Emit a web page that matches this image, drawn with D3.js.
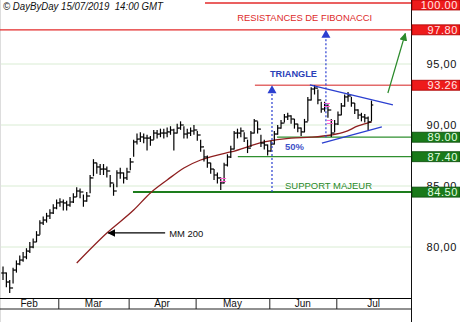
<!DOCTYPE html>
<html>
<head>
<meta charset="utf-8">
<script src="https://cdn.jsdelivr.net/npm/d3@7"></script>
<style>
body{margin:0;background:#fff}
svg{display:block;font-family:"Liberation Sans",Arial,sans-serif}
</style>
</head>
<body>
<svg width="460" height="322"></svg>
<script>
// daily bars, 6 Feb -> 15 Jul 2019 (one value per trading day)
var holidays = ["2019-04-19","2019-04-22","2019-05-01"];
var monthNames = ["Feb","Mar","Apr","May","Jun","Jul"];

var closes = [77.87,77.13,76.64,78.11,78.61,78.93,79.18,79.67,80.00,80.41,
  80.98,81.97,82.21,82.54,82.79,83.20,83.61,83.69,83.61,83.44,
  83.69,84.10,84.59,84.51,83.77,84.18,85.66,86.89,86.56,86.39,
  86.39,86.23,85.25,84.59,86.07,86.07,85.66,86.15,86.97,88.61,
  88.85,89.02,88.93,88.93,88.77,89.34,89.26,89.34,89.34,89.43,
  89.59,89.34,89.75,90.00,89.26,89.34,89.51,89.59,89.18,88.20,
  87.38,86.89,86.39,85.90,85.66,85.25,86.72,87.38,88.03,89.34,
  89.34,89.51,88.93,88.11,89.34,90.33,89.67,88.52,88.36,87.87,
  88.44,89.26,89.75,90.16,90.66,90.74,90.49,90.08,89.75,89.43,
  90.25,92.05,92.95,93.03,92.05,91.31,91.56,91.23,89.34,90.08,
  90.82,91.56,92.30,92.38,91.80,91.23,90.82,90.66,90.57,90.25,91.64];
var highs = [78.4,77.9,77.3,78.3,78.9,79.3,79.6,79.9,80.4,80.7,
  81.3,82.2,82.5,82.8,83.1,83.5,83.9,84.0,83.9,83.8,
  84.1,84.4,84.9,84.8,84.3,84.5,85.9,87.2,86.9,86.8,
  86.8,86.6,85.9,85.2,86.3,86.5,86.1,86.5,87.3,88.8,
  89.3,89.4,89.3,89.2,89.1,89.6,89.6,89.7,89.7,89.8,
  89.9,89.7,90.1,90.3,89.9,89.7,89.8,90.0,89.5,88.8,
  88.0,87.5,86.9,86.4,86.1,85.7,86.9,87.6,88.3,89.5,
  89.7,89.8,89.4,88.8,89.5,90.5,90.3,89.2,88.8,88.4,
  88.7,89.5,90.0,90.4,90.9,91.0,90.8,90.5,90.1,89.8,
  90.5,92.3,93.1,93.26,92.9,91.9,91.9,91.7,90.5,90.4,
  91.1,91.8,92.5,92.7,92.3,91.8,91.3,91.0,90.9,90.7,92.0];
var lows = [77.3,76.7,76.23,77.0,77.9,78.5,78.8,79.0,79.5,79.9,
  80.4,81.0,81.8,82.0,82.3,82.7,83.1,83.3,83.0,83.0,
  83.3,83.6,84.1,84.0,83.3,83.7,84.4,85.8,86.0,85.9,
  85.9,85.7,84.9,84.2,84.9,85.6,85.2,85.5,86.3,87.4,
  88.4,88.6,88.5,87.9,88.3,88.8,88.9,89.0,88.9,89.0,
  89.2,87.9,89.3,89.6,88.9,88.9,89.1,89.2,88.7,87.8,
  87.0,86.5,86.0,85.5,85.2,84.67,85.2,86.6,87.3,88.0,
  88.9,89.0,88.6,87.7,88.2,89.3,89.3,88.2,88.0,87.5,
  87.8,88.4,89.2,89.7,90.2,90.4,90.1,89.7,89.4,89.1,
  89.4,90.3,92.0,92.5,91.7,91.0,91.1,90.6,89.02,89.4,
  90.0,90.8,91.5,91.9,91.5,90.9,90.5,90.3,90.2,89.6,90.3];

// MM 200, read at some days
var mmDays = [22,31,39,44,49,54,59,64,68,78,86,92,98,102,106,110];
var mmValues = [78.69,81.15,83.03,84.43,85.49,86.48,87.13,87.54,87.79,88.61,88.93,89.00,89.18,89.43,89.92,90.25];

var gridTicks = [80,85,90,95];
var resistances = [100.00,97.80,93.26];
var supports = [89.00,87.40,84.50];

var svg = d3.select("svg"),
    plotW = 411,
    axisTop = 298, axisBottom = 309;

// trading days
var holi = new Set(holidays);
var fmtDay = d3.timeFormat("%Y-%m-%d");
var dates = d3.timeDay.range(new Date(2019,1,6), new Date(2019,6,16))
   .filter(function(d){ return d.getDay()!=0 && d.getDay()!=6 && !holi.has(fmtDay(d)); });

var x = d3.scaleLinear().domain([-0.9,121.8]).range([0,plotW]);
var y = d3.scaleLinear().domain([80,100]).range([247,3]);

// grid
svg.append("g").selectAll("line").data(gridTicks).enter().append("line")
   .attr("x1",0).attr("x2",plotW)
   .attr("y1",d=>y(d)).attr("y2",d=>y(d))
   .attr("stroke","#d9ecd3").attr("stroke-width",1);

svg.append("line").attr("x1",0.5).attr("x2",0.5).attr("y1",0).attr("y2",322).attr("stroke","#ddd");

// resistance / support lines (start day for each)
var resFrom = [60.3,-1,75.2];
var supFrom = [81.8,70.1,38.8];
svg.append("g").selectAll("line").data(resistances).enter().append("line")
   .attr("x1",(d,i)=>x(resFrom[i])).attr("x2",plotW)
   .attr("y1",d=>y(d)).attr("y2",d=>y(d))
   .attr("stroke",(d,i)=> i==2 ? "#e36a6a" : "#e32b2b")
   .attr("stroke-width",(d,i)=> i==2 ? 1.6 : 1.3);
svg.append("g").selectAll("line").data(supports).enter().append("line")
   .attr("x1",(d,i)=>x(supFrom[i])).attr("x2",plotW)
   .attr("y1",d=>y(d)).attr("y2",d=>y(d))
   .attr("stroke",(d,i)=> i==2 ? "#1d7d1d" : "#2f8f2f")
   .attr("stroke-width",(d,i)=> i==2 ? 2 : 1.3);

// MM 200
var mm = mmDays.map((d,i)=>[d,mmValues[i]]);
svg.append("path").datum(mm)
   .attr("fill","none").attr("stroke","#8e1f1f").attr("stroke-width",1.3)
   .attr("d",d3.line().x(d=>x(d[0])).y(d=>y(d[1])).curve(d3.curveMonotoneX));

// ohlc bars
var bars = svg.append("g").attr("stroke","#000").attr("stroke-width",1.2);
closes.forEach(function(c,i){
  var cx = x(i);
  var op = i>0 ? closes[i-1] : c;
  bars.append("line").attr("x1",cx).attr("x2",cx).attr("y1",y(highs[i])).attr("y2",y(lows[i]));
  bars.append("line").attr("x1",cx-1.8).attr("x2",cx).attr("y1",y(op)).attr("y2",y(op));
  bars.append("line").attr("x1",cx).attr("x2",cx+1.8).attr("y1",y(c)).attr("y2",y(c));
});

// pink marks
var pinkMarks = [[65.7,85.49],[96.7,91.64],[97.6,90.25]];
pinkMarks.forEach(function(p){
  [-1.5,1.5].forEach(function(o){
    svg.append("line").attr("x1",x(p[0])-3).attr("x2",x(p[0])+3)
      .attr("y1",y(p[1])+o).attr("y2",y(p[1])+o)
      .attr("stroke","#ff5fd0").attr("stroke-width",1);
  });
});

// triangle
var blue = "#2b3fd0";
var triLines = [[[91.6,93.28],[116.4,91.64]],[[95.2,88.52],[113.1,89.84]]];
triLines.forEach(function(l){
  svg.append("line").attr("x1",x(l[0][0])).attr("y1",y(l[0][1]))
     .attr("x2",x(l[1][0])).attr("y2",y(l[1][1]))
     .attr("stroke",blue).attr("stroke-width",1.3);
});

// dotted target arrows: [day, from, to]
var targets = [[80.3,84.50,93.26],[96.4,89.00,97.80]];
targets.forEach(function(t){
  var tx = x(t[0]), ty = y(t[2]);
  svg.append("line").attr("x1",tx).attr("x2",tx).attr("y1",y(t[1])).attr("y2",ty+8)
     .attr("stroke",blue).attr("stroke-width",1.2).attr("stroke-dasharray","2,2");
  svg.append("path").attr("d","M"+tx+","+ty+"L"+(tx+4.5)+","+(ty+8)+"L"+(tx-4.5)+","+(ty+8)+"Z")
     .attr("fill",blue);
});

// arrow heads
var defs = svg.append("defs");
defs.append("marker").attr("id","gh").attr("viewBox","0 0 10 10").attr("refX",9).attr("refY",5)
   .attr("markerWidth",8).attr("markerHeight",8).attr("markerUnits","userSpaceOnUse").attr("orient","auto")
   .append("path").attr("d","M0,0L10,5L0,10Z").attr("fill","#2a8a2a");
defs.append("marker").attr("id","bh").attr("viewBox","0 0 10 10").attr("refX",9).attr("refY",5)
   .attr("markerWidth",8).attr("markerHeight",8).attr("markerUnits","userSpaceOnUse").attr("orient","auto")
   .append("path").attr("d","M0,0L10,5L0,10Z").attr("fill","#000");

svg.append("line").attr("x1",x(114.9)).attr("y1",y(92.62)).attr("x2",x(120.1)).attr("y2",y(97.5))
   .attr("stroke","#2a8a2a").attr("stroke-width",1.2).attr("marker-end","url(#gh)");
svg.append("line").attr("x1",x(48.4)).attr("y1",y(81.15)).attr("x2",x(31.4)).attr("y2",y(81.15))
   .attr("stroke","#000").attr("stroke-width",1.2).attr("marker-end","url(#bh)");

// texts
function label(t,d,p,w,col,bold){
  svg.append("text").attr("x",x(d)).attr("y",y(p)).text(t)
     .attr("fill",col).style("font-size","9px").style("font-weight",bold?"bold":"normal")
     .attr("textLength",w).attr("lengthAdjust","spacingAndGlyphs");
}
label("RESISTANCES DE FIBONACCI",69.9,98.55,135,"#dd2a2a",false);
label("TRIANGLE",79.7,93.93,47,"#2b3fb8",true);
label("50%",84.2,87.95,19,"#3f52c8",true);
label("SUPPORT MAJEUR",84.2,84.75,87,"#2a8a2a",false);
label("MM 200",49.6,80.82,34,"#111",false);

svg.append("text").attr("x",3).attr("y",10).text("\u00a9 DayByDay 15/07/2019  14:00 GMT")
   .style("font-size","10px").style("font-style","italic").attr("fill","#111")
   .attr("textLength",160).attr("lengthAdjust","spacingAndGlyphs").style("white-space","pre");

// x axis band
var monthStarts = [];
dates.forEach(function(d,i){ if(i>0 && d.getMonth()!=dates[i-1].getMonth()) monthStarts.push(i); });
var seps = monthStarts.map(i=>i-0.5);
svg.append("g").attr("transform","translate(0,"+axisTop+")")
   .call(d3.axisBottom(x).tickValues(seps).tickFormat("").tickSizeInner(axisBottom-axisTop).tickSizeOuter(0))
   .call(g=>g.select(".domain").attr("d","M0,0.5H"+plotW))
   .selectAll("line").attr("stroke","#222");
svg.append("line").attr("x1",0).attr("x2",plotW).attr("y1",axisBottom).attr("y2",axisBottom).attr("stroke","#222");
var edges = [x.range()[0]].concat(seps.map(x)).concat([plotW]);
svg.append("g").selectAll("text").data(monthNames).enter().append("text")
   .attr("x",(d,i)=>(edges[i]+edges[i+1])/2).attr("y",axisBottom-2)
   .attr("text-anchor","middle").style("font-size","10px").attr("fill","#111").text(d=>d);

// right axis
svg.append("line").attr("x1",plotW+0.5).attr("x2",plotW+0.5).attr("y1",0).attr("y2",322).attr("stroke","#111");
var ra = svg.append("g").attr("transform","translate("+plotW+",0)")
   .call(d3.axisRight(y).tickValues(gridTicks).tickSize(0).tickFormat(d=>d3.format(".2f")(d).replace(".",",")));
ra.select(".domain").remove();
ra.selectAll("text").attr("x",46).attr("text-anchor","end").style("font-size","11px")
   .style("font-family","'Liberation Sans',Arial,sans-serif").attr("fill","#111").attr("letter-spacing","0.6");

function levelBox(v,fill,stroke,tc){
  var g = svg.append("g");
  var top = Math.max(0, y(v)-5);
  g.append("rect").attr("x",plotW+1).attr("y",top).attr("width",48).attr("height",10)
    .attr("fill",fill).attr("stroke",stroke).attr("stroke-width",0.8);
  g.append("text").attr("x",458).attr("y",top+9).attr("text-anchor","end")
    .style("font-size","11px").attr("letter-spacing","0.6").attr("fill",tc).text(d3.format(".2f")(v));
}
resistances.forEach(v=>levelBox(v,"#ee1b1b","#a00","#ffe6e6"));
supports.forEach(v=>levelBox(v,"#1a7a1a","#0a4a0a","#e2ffe2"));
</script>
</body>
</html>
